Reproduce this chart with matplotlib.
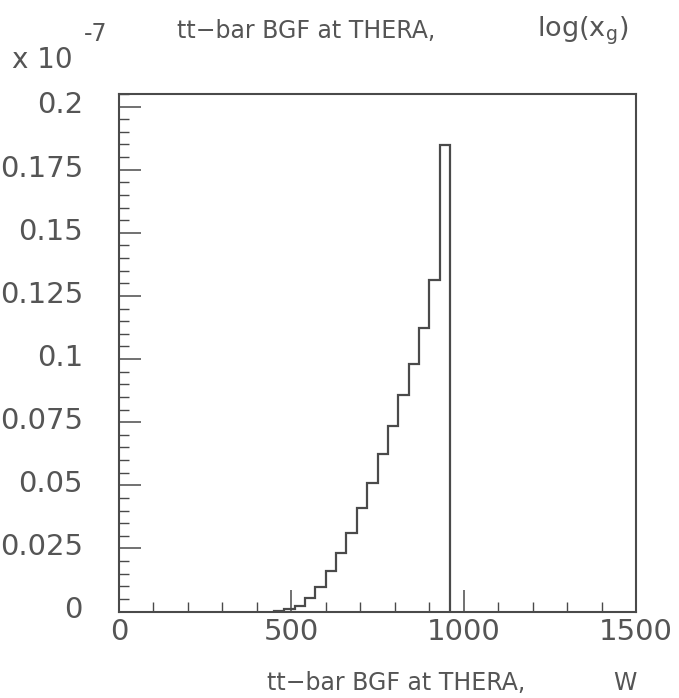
import matplotlib
matplotlib.use("Agg")
import matplotlib.pyplot as plt
from matplotlib.ticker import MultipleLocator, FuncFormatter
from matplotlib.transforms import ScaledTranslation

# Histogram of W (GeV), values in units of 1e-7
bin_edges = [450, 480, 510, 540, 570, 600, 630, 660, 690, 720, 750,
             780, 810, 840, 870, 900, 930, 960]
bin_values = [0.0002, 0.0008, 0.0023, 0.0054, 0.0098, 0.0159, 0.0231,
              0.0309, 0.0409, 0.0511, 0.0624, 0.0736, 0.0859, 0.0981,
              0.1122, 0.1313, 0.1846]

title_left = "tt\u2212bar BGF at THERA,"
title_right = "log(x$_\\mathregular{g}$)"
xlabel_left = "tt\u2212bar BGF at THERA,"
xlabel_right = "W"

TXT = "#555555"
LINE = "#4a4a4a"

plt.rcParams['font.family'] = ['DejaVu Sans']
plt.rcParams['mathtext.fontset'] = 'dejavusans'

W, H = 679, 698
fig = plt.figure(figsize=(W / 100, H / 100), dpi=100)
ax = fig.add_axes([119 / W, 1 - 611.5 / H, (636 - 119) / W, (611.5 - 94) / H])

ax.stairs(bin_values, bin_edges, color=LINE, linewidth=1.6, baseline=0)

ax.set_xlim(0, 1500)
ax.set_ylim(0, 0.205)

ax.xaxis.set_major_locator(MultipleLocator(500))
ax.xaxis.set_minor_locator(MultipleLocator(100))
ax.yaxis.set_major_locator(MultipleLocator(0.025))
ax.yaxis.set_minor_locator(MultipleLocator(0.005))
ax.yaxis.set_major_formatter(FuncFormatter(lambda v, p: f"{round(v, 4):g}"))
ax.xaxis.set_major_formatter(FuncFormatter(lambda v, p: f"{v:g}"))

for s in ['top', 'right', 'left', 'bottom']:
    ax.spines[s].set_color(LINE)
    ax.spines[s].set_linewidth(1.5)

ax.tick_params(axis='both', which='major', direction='in', length=15.5,
               width=1.1, color=LINE, labelcolor=TXT, labelsize=21)
ax.tick_params(axis='both', which='minor', direction='in', length=7.2,
               width=1.0, color=LINE)
ax.tick_params(axis='y', which='major', pad=26)
ax.tick_params(axis='x', which='major', pad=5)
ax.tick_params(top=False, right=False, which='both')

for lab in ax.get_yticklabels():
    lab.set_transform(lab.get_transform() + ScaledTranslation(0, 3 / 72, fig.dpi_scale_trans))

# title pieces
fig.text(177 / W, 1 - 31 / H, title_left, ha='left', va='center',
         fontsize=17, color=TXT)
fig.text(537 / W, 1 - 31 / H, title_right, ha='left', va='center',
         fontsize=19.5, color=TXT)
# x label pieces
fig.text(267 / W, 1 - 683 / H, xlabel_left, ha='left', va='center',
         fontsize=17, color=TXT)
fig.text(637 / W, 1 - 683 / H, xlabel_right, ha='right', va='center',
         fontsize=17, color=TXT)
# multiplier
fig.text(12 / W, 1 - 60 / H, "x 10", ha='left', va='center',
         fontsize=20, color=TXT)
fig.text(84 / W, 1 - 34 / H, "-7", ha='left', va='center',
         fontsize=17, color=TXT)

fig.savefig("out.png", dpi=100)
